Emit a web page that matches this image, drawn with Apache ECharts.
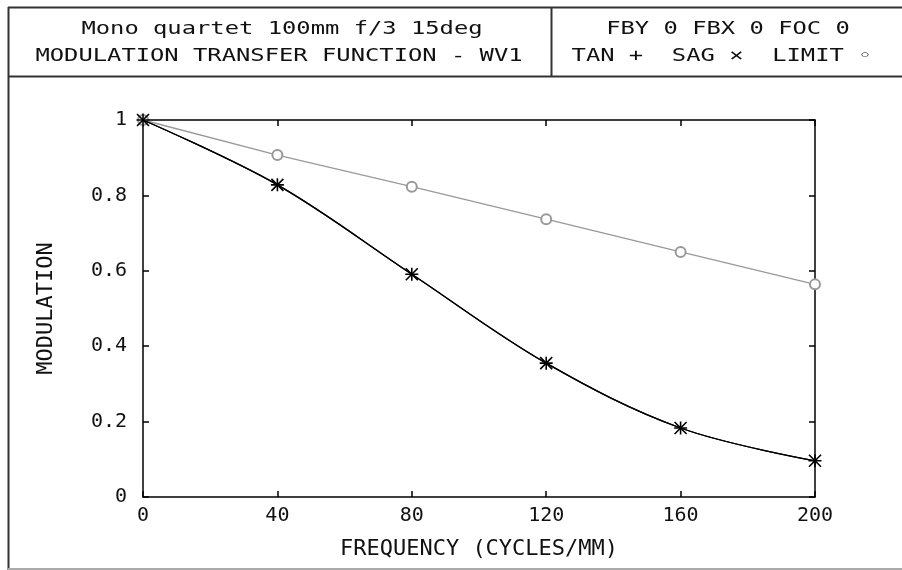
<!DOCTYPE html>
<html>
<head>
<meta charset="utf-8">
<script src="https://cdn.jsdelivr.net/npm/echarts@6/dist/echarts.min.js"></script>
<style>
  html, body { margin: 0; padding: 0; background: #fff; }
  #chart { width: 902px; height: 570px; }
</style>
</head>
<body>
<div id="chart"></div>
<script>
// data
var frequencies = [0, 40, 80, 120, 160, 200];
var tanValues = [1, 0.828, 0.591, 0.355, 0.183, 0.096];
var sagValues = [1, 0.828, 0.591, 0.355, 0.183, 0.096];
var limitValues = [1, 0.907, 0.823, 0.737, 0.650, 0.564];

var titleLines = ["Mono quartet 100mm f/3 15deg", "MODULATION TRANSFER FUNCTION - WV1"];
var infoLines = ["FBY 0 FBX 0 FOC 0", "TAN +  SAG \u00d7  LIMIT \u25e6"];

function pairs(vals) {
  return frequencies.map(function (f, i) { return [f, vals[i]]; });
}

var mono = "DejaVu Sans Mono";
var myChart = echarts.init(document.getElementById("chart"));

function headerText(txt, x, y) {
  return {
    type: "text",
    x: x,
    y: y,
    scaleX: 1.4,
    style: {
      text: txt,
      x: 0,
      y: 0,
      textAlign: "center",
      textVerticalAlign: "middle",
      font: "17px " + mono,
      fill: "#111"
    }
  };
}

var plusPath = "path://M0,5L10,5M5,0L5,10";
var crossPath = "path://M1,1L9,9M9,1L1,9";

var axisLineStyle = { show: true, onZero: false, lineStyle: { color: "#000", width: 1.5 } };
var tickStyle = { show: true, inside: true, length: 6, lineStyle: { color: "#000", width: 1.5 } };

var option = {
  backgroundColor: "#fff",
  animation: false,
  grid: { left: 143, right: 87, top: 120, bottom: 73 },
  xAxis: [
    {
      type: "value",
      min: 0,
      max: 200,
      interval: 40,
      name: "FREQUENCY (CYCLES/MM)",
      nameLocation: "middle",
      nameGap: 41,
      nameTextStyle: { fontFamily: mono, fontSize: 22, color: "#111" },
      axisLine: axisLineStyle,
      axisTick: tickStyle,
      axisLabel: { fontFamily: mono, fontSize: 20, color: "#111", margin: 9 },
      splitLine: { show: false }
    },
    {
      type: "value",
      position: "top",
      min: 0,
      max: 200,
      interval: 40,
      axisLine: axisLineStyle,
      axisTick: tickStyle,
      axisLabel: { show: false },
      splitLine: { show: false }
    }
  ],
  yAxis: [
    {
      type: "value",
      min: 0,
      max: 1,
      interval: 0.2,
      name: "MODULATION",
      nameLocation: "middle",
      nameGap: 86,
      nameTextStyle: { fontFamily: mono, fontSize: 22, color: "#111" },
      axisLine: axisLineStyle,
      axisTick: tickStyle,
      axisLabel: { fontFamily: mono, fontSize: 20, color: "#111", margin: 16 },
      splitLine: { show: false }
    },
    {
      type: "value",
      position: "right",
      min: 0,
      max: 1,
      interval: 0.2,
      axisLine: axisLineStyle,
      axisTick: tickStyle,
      axisLabel: { show: false },
      splitLine: { show: false }
    }
  ],
  graphic: [
    // frame
    { type: "line", shape: { x1: 8, y1: 7.5, x2: 902, y2: 7.5 }, style: { stroke: "#333", lineWidth: 2 } },
    { type: "line", shape: { x1: 8.5, y1: 7, x2: 8.5, y2: 570 }, style: { stroke: "#333", lineWidth: 2 } },
    { type: "line", shape: { x1: 8, y1: 76.5, x2: 902, y2: 76.5 }, style: { stroke: "#333", lineWidth: 2 } },
    { type: "line", shape: { x1: 551.5, y1: 7, x2: 551.5, y2: 76 }, style: { stroke: "#333", lineWidth: 2 } },
    { type: "line", shape: { x1: 8, y1: 569, x2: 902, y2: 569 }, style: { stroke: "#aaa", lineWidth: 2 } },
    headerText(titleLines[0], 282, 30),
    headerText(titleLines[1], 279, 57),
    headerText(infoLines[0], 728, 30),
    headerText(infoLines[1], 722, 57)
  ],
  series: [
    {
      name: "LIMIT",
      type: "line",
      data: pairs(limitValues),
      symbol: "emptyCircle",
      symbolSize: 10,
      lineStyle: { color: "#999", width: 1.3 },
      itemStyle: { color: "#999", borderColor: "#999", borderWidth: 1.3 },
      z: 2
    },
    {
      name: "TAN",
      type: "line",
      data: pairs(tanValues),
      smooth: 0.35,
      symbol: plusPath,
      symbolSize: 13,
      lineStyle: { color: "#000", width: 1.3 },
      itemStyle: { color: "#000", borderColor: "#000", borderWidth: 1.6 },
      z: 3
    },
    {
      name: "SAG",
      type: "line",
      data: pairs(sagValues),
      smooth: 0.35,
      symbol: crossPath,
      symbolSize: 12,
      lineStyle: { color: "#000", width: 1.3 },
      itemStyle: { color: "#000", borderColor: "#000", borderWidth: 1.6 },
      z: 3
    }
  ]
};

option && myChart.setOption(option);
</script>
</body>
</html>
